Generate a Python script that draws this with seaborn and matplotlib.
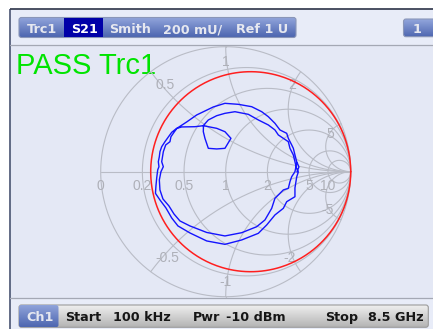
import numpy as np
import pandas as pd
import matplotlib
matplotlib.use("Agg")
import matplotlib.pyplot as plt
import seaborn as sns
from matplotlib.patches import FancyBboxPatch, Rectangle
from matplotlib.colors import to_rgb

# S21 trace in the reflection plane (real, imaginary)
s21_re = [0.568, 0.554, 0.528, 0.514, 0.501, 0.461, 0.434, 0.394, 0.368, 0.314,
          0.248, 0.128, -0.006, -0.152, -0.286, -0.366, -0.414, -0.454, -0.502, -0.526,
          -0.531, -0.518, -0.499, -0.512, -0.499, -0.480, -0.446, -0.438, -0.406, -0.390,
          -0.352, -0.246, -0.179, -0.072, -0.006, 0.042, -0.006, -0.072, -0.139, -0.166,
          -0.179, -0.178, -0.139, -0.072, -0.006, 0.074, 0.181, 0.261, 0.341, 0.394,
          0.421, 0.461, 0.501, 0.514, 0.541, 0.554, 0.566,
          0.581, 0.568, 0.554, 0.554, 0.488, 0.461, 0.394, 0.328, 0.261, 0.128,
          -0.006, -0.152, -0.286, -0.382, -0.432, -0.478, -0.526, -0.562, -0.558, -0.552,
          -0.544, -0.534, -0.539, -0.531, -0.526, -0.512, -0.486, -0.432, -0.398, -0.312,
          -0.232, -0.099, -0.006, 0.101, 0.208, 0.288, 0.341, 0.394, 0.434, 0.488,
          0.501, 0.528, 0.541, 0.554, 0.568, 0.586, 0.570]
s21_im = [0.070, 0.000, -0.040, -0.080, -0.133, -0.146, -0.173, -0.213, -0.293, -0.386,
          -0.440, -0.488, -0.514, -0.486, -0.434, -0.394, -0.338, -0.274, -0.218, -0.146,
          -0.066, 0.000, 0.040, 0.080, 0.160, 0.214, 0.240, 0.280, 0.326, 0.347,
          0.358, 0.360, 0.368, 0.347, 0.320, 0.267, 0.187, 0.182, 0.187, 0.267,
          0.320, 0.370, 0.414, 0.448, 0.467, 0.480, 0.459, 0.414, 0.374, 0.334,
          0.294, 0.267, 0.240, 0.187, 0.134, 0.080, 0.030,
          -0.002, -0.042, -0.130, -0.200, -0.240, -0.293, -0.346, -0.426, -0.493, -0.546,
          -0.581, -0.554, -0.490, -0.434, -0.370, -0.290, -0.226, -0.173, -0.114, -0.050,
          0.014, 0.040, 0.080, 0.120, 0.160, 0.200, 0.240, 0.315, 0.342, 0.398,
          0.454, 0.518, 0.547, 0.539, 0.520, 0.480, 0.440, 0.387, 0.334, 0.307,
          0.267, 0.214, 0.187, 0.134, 0.080, 0.038, -0.002]

# limit line: constant-resistance circle
limit_resistance = 0.25

# Smith grid
resistance_grid = [0.2, 0.5, 1, 2, 5, 10]
reactance_grid = [0.5, 1, 2, 5]
resistance_labels = ["0", "0.2", "0.5", "1", "2", "5", "10"]
resistance_label_values = [0, 0.2, 0.5, 1, 2, 5, 10]
reactance_labels = ["0.5", "1", "2", "5", "-0.5", "-1", "-2", "-5"]
reactance_label_values = [0.5, 1, 2, 5, -0.5, -1, -2, -5]

# status bars
header_texts = ["Trc1", "S21", "Smith", "200 mU/", "Ref 1 U"]
header_x = [26.5, 71.5, 109.0, 163.0, 236.5]
channel_text = "1"
footer_texts = ["Ch1", "Start", "100 kHz", "Pwr", "-10 dBm", "Stop", "8.5 GHz"]
footer_x = [26.5, 65.0, 113.0, 193.0, 226.5, 325.0, 368.0]
pass_text = "PASS Trc1"

sns.set_style("white")
W, H = 433, 329
fig = plt.figure(figsize=(W / 100, H / 100), dpi=100)
fig.patch.set_facecolor("white")

# pixel-space background axes for frame, bars and labels
bg = fig.add_axes([0, 0, 1, 1])
bg.set_xlim(0, W)
bg.set_ylim(H, 0)
bg.axis("off")

panel = "#e4e8f5"
bg.add_patch(Rectangle((10, 9), W - 10, H - 9, fc=panel, ec="none", zorder=0))
bg.add_patch(Rectangle((10, 9), W - 10, 36, fc="#e8ecf8", ec="none", zorder=0))
bg.add_patch(Rectangle((10, 298), W - 10, H - 298, fc="#e8ecf8", ec="none", zorder=0))
bg.plot([9.5, 9.5], [8.5, H], color="#56607c", lw=1.3, zorder=5, solid_capstyle="butt")
bg.plot([9.5, W], [8.8, 8.8], color="#3c4256", lw=1.3, zorder=5, solid_capstyle="butt")
bg.plot([10, W], [45.0, 45.0], color="#a4a8b4", lw=0.9, zorder=5)
bg.plot([10, W], [298.0, 298.0], color="#a4a8b4", lw=0.9, zorder=5)


def gradient_box(x0, y0, x1, y1, c_top, c_bot, ec, rad=2.5, z=3):
    patch = FancyBboxPatch((x0, y0), x1 - x0, y1 - y0,
                           boxstyle=f"round,pad=0,rounding_size={rad}",
                           fc="none", ec=ec, lw=0.8, zorder=z + 1)
    bg.add_patch(patch)
    g = np.linspace(0, 1, 64)[:, None]
    cols = (1 - g) * np.array(to_rgb(c_top)) + g * np.array(to_rgb(c_bot))
    im = bg.imshow(cols.reshape(64, 1, 3), extent=(x0, x1, y1, y0),
                   aspect="auto", zorder=z, interpolation="bilinear")
    im.set_clip_path(patch)


bold = dict(family="DejaVu Sans", fontweight="bold", fontsize=9.2)

# header bar
gradient_box(19, 17.5, 296, 37.5, "#93a6dc", "#4d66b0", "#8a96b8")
bg.add_patch(Rectangle((64.3, 18.0), 38.4, 19.0, fc="#0000a8", ec="none", zorder=4.5))
for txt, x in zip(header_texts, header_x):
    col = "white" if txt == "S21" else "#e6e8f0"
    bg.text(x, 33.2, txt, ha="left", va="baseline", color=col, zorder=6, **bold)
gradient_box(403.5, 19, 440, 36.7, "#93a6dc", "#4d66b0", "#8a96b8")
bg.text(417.5, 33.0, channel_text, ha="center", va="baseline", color="#e6e8f0", zorder=6, **bold)

# footer bar
gradient_box(19, 305, 428.3, 327.3, "#f2f2f2", "#b4b4b4", "#9a9a9a")
gradient_box(19, 305, 58.5, 327.3, "#93a6dc", "#4d66b0", "none", z=4.6)
for txt, x in zip(footer_texts, footer_x):
    col = "#e6e8f0" if txt == "Ch1" else "#161616"
    bg.text(x, 321.4, txt, ha="left", va="baseline", color=col, zorder=6, **bold)

bg.text(16.5, 74.5, pass_text, ha="left", va="baseline", color="#00e400",
        fontsize=21, family="Liberation Sans", zorder=6)

# Smith chart axes, 125 px per unit, centred at pixel (225.7, 171.7)
cx, cy, s = 225.7, 171.7, 125.0
x0p, x1p, y0p, y1p = 10.5, W, 45.5, 297.5
ax = fig.add_axes([x0p / W, (H - y1p) / H, (x1p - x0p) / W, (y1p - y0p) / H])
ax.set_xlim((x0p - cx) / s, (x1p - cx) / s)
ax.set_ylim((cy - y1p) / s, (cy - y0p) / s)
ax.patch.set_alpha(0)
ax.axis("off")

grid_col = "#b9bcc6"
glw = 0.8


def gamma(z):
    return (z - 1) / (z + 1)


t = np.concatenate([-np.geomspace(1e4, 1e-3, 800), [0], np.geomspace(1e-3, 1e4, 800)])
u = np.concatenate([[0], np.geomspace(1e-3, 1e4, 1200)])

# outer circle and resistance circles
for r in [0] + resistance_grid:
    g = gamma(r + 1j * t)
    ax.plot(g.real, g.imag, color=grid_col, lw=glw, zorder=1)
# reactance arcs
for xv in reactance_grid:
    for sgn in (1, -1):
        g = gamma(u + 1j * sgn * xv)
        ax.plot(g.real, g.imag, color=grid_col, lw=glw, zorder=1)
ax.plot([-1, 1], [0, 0], color=grid_col, lw=glw, zorder=1)
ax.plot([0, 0], [1.0, 1.08], color=grid_col, lw=glw, zorder=1)
ax.plot([0, 0], [-1.0, -1.08], color=grid_col, lw=glw, zorder=1)

lab = dict(color="#aeb0b8", fontsize=10, family="Liberation Sans", zorder=2)
for txt, r in zip(resistance_labels, resistance_label_values):
    ax.text(gamma(r + 0j).real, -0.115, txt, ha="center", va="center", **lab)
for txt, xv in zip(reactance_labels, reactance_label_values):
    g = gamma(1j * xv) * 0.936
    ha = "left" if g.real < -0.05 else ("right" if g.real > 0.05 else "center")
    va = "top" if xv > 0 else "bottom"
    ax.text(g.real, g.imag, txt, ha=ha, va=va, **lab)

# red limit circle
g = gamma(limit_resistance + 1j * t)
ax.plot(g.real, g.imag, color="#ff1f1f", lw=1.1, zorder=3)

# measured trace
df = pd.DataFrame({"re": s21_re, "im": s21_im})
sns.lineplot(data=df, x="re", y="im", sort=False, estimator=None,
             color="#1414ff", lw=1.0, ax=ax, zorder=4)
ax.set_xlim((x0p - cx) / s, (x1p - cx) / s)
ax.set_ylim((cy - y1p) / s, (cy - y0p) / s)
ax.axis("off")

fig.savefig("out.png", dpi=100)
